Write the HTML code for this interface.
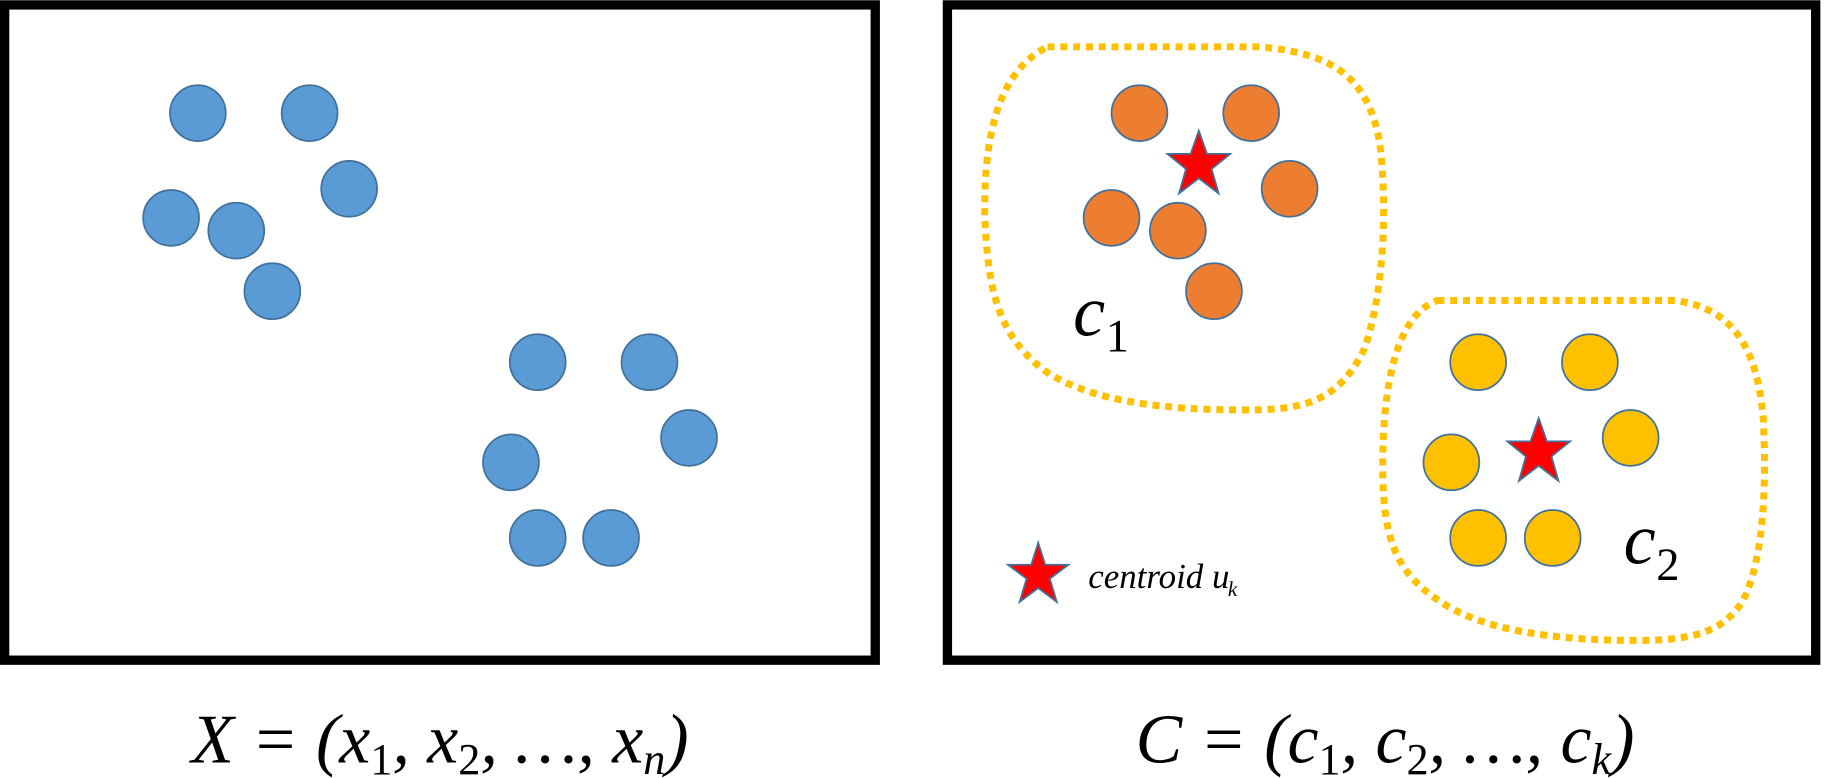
<!DOCTYPE html>
<html><head><meta charset="utf-8"><style>html,body{margin:0;padding:0;background:#fff}svg{display:block}</style></head>
<body>
<svg width="1825" height="778" viewBox="0 0 1568 668" xmlns="http://www.w3.org/2000/svg" font-family="Liberation Serif, serif">
<rect x="4" y="4" width="748" height="563" fill="#fff" stroke="#000" stroke-width="8"/>
<rect x="814" y="4" width="746" height="563" fill="#fff" stroke="#000" stroke-width="8"/>
<g fill="#5b9bd5" stroke="#41719c" stroke-width="1.5">
<circle cx="170" cy="97" r="24"/><circle cx="266" cy="97" r="24"/><circle cx="300" cy="162" r="24"/>
<circle cx="147" cy="187" r="24"/><circle cx="203" cy="198" r="24"/><circle cx="234" cy="250" r="24"/>
<circle cx="462" cy="311" r="24"/><circle cx="558" cy="311" r="24"/><circle cx="592" cy="376" r="24"/>
<circle cx="439" cy="397" r="24"/><circle cx="462" cy="462" r="24"/><circle cx="525" cy="462" r="24"/>
</g>
<g fill="#ed7d31" stroke="#41719c" stroke-width="1.5">
<circle cx="979" cy="97" r="24"/><circle cx="1075" cy="97" r="24"/><circle cx="1108" cy="162" r="24"/>
<circle cx="955" cy="187" r="24"/><circle cx="1012" cy="198" r="24"/><circle cx="1043" cy="250" r="24"/>
</g>
<g fill="#ffc000" stroke="#41719c" stroke-width="1.5">
<circle cx="1270" cy="311" r="24"/><circle cx="1366" cy="311" r="24"/><circle cx="1401" cy="376" r="24"/>
<circle cx="1247" cy="397" r="24"/><circle cx="1270" cy="462" r="24"/><circle cx="1334" cy="462" r="24"/>
</g>
<g fill="none" stroke="#ffc000" stroke-width="6" stroke-dasharray="6 5">
<path d="M900,40 L1080,40 C1150,45 1175,70 1185,120 C1192,170 1190,250 1172,300 C1150,345 1120,352 1070,352 C1000,352 940,345 900,320 C858,290 848,250 846,180 C846,110 860,60 900,40 Z"/>
<path d="M1235,258 L1440,258 C1490,265 1510,300 1515,360 C1518,420 1515,480 1498,515 C1480,545 1450,550 1405,550 C1330,550 1270,540 1235,515 C1198,490 1188,460 1188,400 C1188,330 1200,270 1235,258 Z"/>
</g>
<g fill="#ff0000" stroke="#41719c" stroke-width="1.5">
<polygon points="1030,112 1037,132 1057,132 1041,145 1047,166 1030,153 1013,166 1019,145 1003,132 1023,132"/>
<polygon points="1322,359 1329,379 1349,379 1333,392 1339,413 1322,400 1305,413 1311,392 1295,379 1315,379"/>
<polygon points="892,466 898,485 918,485 902,497 908,517 892,505 876,517 882,497 866,485 886,485"/>
</g>
<g font-style="italic" fill="#000">
<text x="922" y="288" font-size="62">c</text><text x="950" y="302" font-size="40" font-style="normal">1</text>
<text x="1395" y="484" font-size="62">c</text><text x="1423" y="498" font-size="40" font-style="normal">2</text>
<text x="935" y="505" font-size="30">centroid u</text><text x="1055" y="512" font-size="18">k</text>
<text x="378" y="655" font-size="60" text-anchor="middle">X = (x<tspan font-size="38" dy="10" font-style="normal">1</tspan><tspan dy="-10">, x</tspan><tspan font-size="38" dy="10" font-style="normal">2</tspan><tspan dy="-10">, …, x</tspan><tspan font-size="38" dy="10">n</tspan><tspan dy="-10">)</tspan></text>
<text x="1190" y="655" font-size="60" text-anchor="middle">C = (c<tspan font-size="38" dy="10" font-style="normal">1</tspan><tspan dy="-10">, c</tspan><tspan font-size="38" dy="10" font-style="normal">2</tspan><tspan dy="-10">, …, c</tspan><tspan font-size="38" dy="10">k</tspan><tspan dy="-10">)</tspan></text>
</g>
</svg>
</body></html>
